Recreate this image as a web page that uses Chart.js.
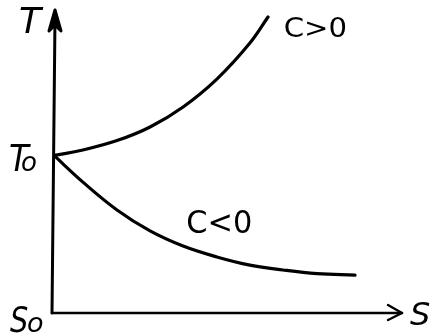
<!DOCTYPE html>
<html>
<head>
<meta charset="utf-8">
<title>T-S</title>
<script src="https://cdn.jsdelivr.net/npm/chart.js@4/dist/chart.umd.min.js"></script>
<style>
  html, body { margin: 0; padding: 0; background: #fff; }
  canvas { display: block; }
</style>
</head>
<body>
<canvas id="myChart" width="431" height="334"></canvas>
<script>
// heating branch (C > 0) and cooling branch (C < 0), both leaving (S0, T0)
var sUp   = [0, 0.83, 1.81, 2.76, 3.71, 4.68, 5.63, 6.15];
var tUp   = [5.2, 5.38, 5.69, 6.14, 6.8, 7.72, 8.91, 9.77];
var sDown = [0, 0.83, 1.81, 2.76, 3.71, 4.68, 5.63, 6.58, 7.56, 8.65];
var tDown = [5.2, 4.32, 3.4, 2.71, 2.21, 1.85, 1.58, 1.42, 1.3, 1.25];

var T0 = 5.2;
var axisMax = 10;

function toPoints (xs, ys) {
	return xs.map(function (x, i) { return { x: x, y: ys[i] }; });
}

function label (ctx, text, x, baseline, size, sx, italic) {
	ctx.save();
	ctx.translate(x, baseline);
	ctx.scale(sx, 1);
	ctx.font = (italic ? 'italic ' : '') + size + 'px "DejaVu Sans"';
	ctx.fillStyle = '#000';
	ctx.textBaseline = 'alphabetic';
	ctx.textAlign = 'left';
	ctx.fillText(text, 0, 0);
	ctx.restore();
}

var axesPlugin = {
	id: 'axesPlugin',
	afterDraw: function (chart) {
		var ctx = chart.ctx,
				xs = chart.scales.x,
				ys = chart.scales.y;

		var x0 = xs.getPixelForValue(0),
				y0 = ys.getPixelForValue(0),
				xEnd = xs.getPixelForValue(axisMax),
				yEnd = ys.getPixelForValue(axisMax),
				yT0 = ys.getPixelForValue(T0);

		ctx.save();
		ctx.strokeStyle = '#000';
		ctx.fillStyle = '#000';
		ctx.lineCap = 'round';
		ctx.lineJoin = 'round';

		// T axis with filled head
		ctx.lineWidth = 3;
		ctx.beginPath();
		ctx.moveTo(x0 - 2, y0);
		ctx.lineTo(x0 + 1, yEnd + 8);
		ctx.stroke();
		ctx.beginPath();
		ctx.moveTo(x0 + 1, yEnd);
		ctx.lineTo(x0 + 7, yEnd + 21);
		ctx.lineTo(x0 + 1, yEnd + 15);
		ctx.lineTo(x0 - 5, yEnd + 21);
		ctx.closePath();
		ctx.fill();
		ctx.stroke();

		// S axis with open head
		ctx.lineWidth = 2.5;
		ctx.beginPath();
		ctx.moveTo(x0 - 2, y0);
		ctx.lineTo(xEnd, y0);
		ctx.stroke();
		ctx.beginPath();
		ctx.moveTo(xEnd - 14, y0 - 8);
		ctx.lineTo(xEnd, y0);
		ctx.lineTo(xEnd - 14, y0 + 7);
		ctx.stroke();
		ctx.restore();

		// axis names and marks
		label(ctx, 'T', x0 - 35, yEnd + 23, 36, 1, true);
		label(ctx, 'T', x0 - 45, yT0 + 16, 38, 0.85, true);
		label(ctx, 'o', x0 - 33, yT0 + 16, 26, 1, true);
		label(ctx, 'S', x0 - 44, y0 + 19, 36, 0.8, true);
		label(ctx, 'o', x0 - 27, y0 + 19, 27, 1, true);
		label(ctx, 'S', xEnd + 8, y0 + 12, 32, 1, true);

		// branch labels
		label(ctx, 'C>0', xs.getPixelForValue(6.6), ys.getPixelForValue(9.1), 27, 1.08, false);
		label(ctx, 'C<0', xs.getPixelForValue(3.8), ys.getPixelForValue(2.64), 32, 0.95, false);
	}
};

var ctx = document.getElementById('myChart');

var lineStyle = {
	showLine: true,
	borderColor: '#000',
	borderWidth: 3.2,
	borderCapStyle: 'round',
	pointRadius: 0,
	tension: 0.4,
	fill: false
};

window.myLineChart = new Chart(ctx, {
	type: 'scatter',
	data: {
		datasets: [
			Object.assign({ label: 'C>0', data: toPoints(sUp, tUp) }, lineStyle),
			Object.assign({ label: 'C<0', data: toPoints(sDown, tDown) }, lineStyle)
		]
	},
	options: {
		responsive: false,
		animation: false,
		layout: { padding: { left: 54, right: 29, top: 10, bottom: 21 } },
		plugins: {
			legend: { display: false },
			tooltip: { enabled: false }
		},
		scales: {
			x: { type: 'linear', min: 0, max: axisMax, display: false },
			y: { type: 'linear', min: 0, max: axisMax, display: false }
		}
	},
	plugins: [axesPlugin]
});
</script>
</body>
</html>
